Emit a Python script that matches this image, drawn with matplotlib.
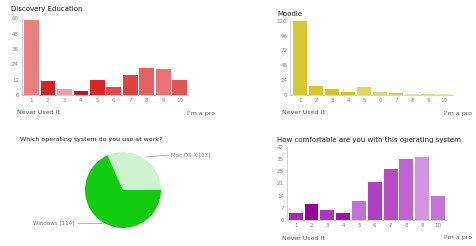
import matplotlib
matplotlib.use("Agg")
import matplotlib.pyplot as plt

# survey data
ratings = [1, 2, 3, 4, 5, 6, 7, 8, 9, 10]

discovery_counts = [59, 11, 5, 3, 12, 6, 16, 21, 20, 12]
discovery_colors = ["#e88080", "#d42323", "#eaa0a0", "#c81028", "#dc2424",
                    "#e04a4a", "#e04242", "#e26262", "#e67474", "#e05656"]
discovery_ticks = [0, 12, 24, 36, 48, 60]

moodle_counts = [119, 15, 9, 5, 13, 5, 3, 1, 2, 1]
moodle_colors = ["#d8c830", "#d8c830", "#d4c424", "#d2c222", "#e2d464",
                 "#e2d674", "#dccc48", "#eee6a8", "#e2d874", "#eee8b0"]
moodle_ticks = [0, 24, 48, 72, 96, 120]

comfort_counts = [4, 9, 6, 4, 11, 22, 29, 35, 36, 14]
comfort_colors = ["#aa26bb", "#990099", "#aa36bb", "#9912aa", "#c272d2",
                  "#b040c2", "#b84ac8", "#c062d0", "#d294e2", "#c474d4"]
comfort_ticks = [0, 7, 14, 21, 28, 35, 42]

os_labels = ["Mac OS X [53]", "Windows [114]"]
os_counts = [53, 114]
os_colors = ["#cdf2cd", "#12cc12"]

W, H = 477, 246
fig = plt.figure(figsize=(W / 100, H / 100), dpi=100)
fig.patch.set_facecolor("white")


def px_axes(x0, y0, x1, y1):
    # axes box given in pixel coords (top-left origin)
    return fig.add_axes([x0 / W, 1 - y1 / H, (x1 - x0) / W, (y1 - y0) / H])


def bar_panel(box, counts, colors, yticks, xleft, title, title_xy, low_xy, high_xy):
    ax = px_axes(*box)
    ax.bar(ratings, counts, width=0.88, color=colors)
    ax.set_xlim(xleft, 10.5)
    ax.set_ylim(0, yticks[-1])
    ax.set_yticks(yticks)
    ax.set_xticks(ratings)
    ax.tick_params(labelsize=4, colors="#888888", length=0, pad=2)
    for s in ["top", "right"]:
        ax.spines[s].set_visible(False)
    for s in ["left", "bottom"]:
        ax.spines[s].set_color("#cccccc")
        ax.spines[s].set_linewidth(0.6)
    fig.text(title_xy[0] / W, 1 - title_xy[1] / H, title, fontsize=5,
             color="#222222", va="center")
    fig.text(low_xy[0] / W, 1 - low_xy[1] / H, "Never Used It", fontsize=4.5,
             color="#555555", va="center")
    fig.text(high_xy[0] / W, 1 - high_xy[1] / H, "I'm a pro", fontsize=4.5,
             color="#555555", va="center")
    return ax


bar_panel((21.7, 18.3, 188, 95), discovery_counts, discovery_colors,
          discovery_ticks, 0.42, "Discovery Education", (11, 9),
          (17, 113), (187, 113))
bar_panel((290, 20.7, 452, 95), moodle_counts, moodle_colors,
          moodle_ticks, 0.35, "Moodle", (277, 14),
          (282, 113), (444, 113))
bar_panel((286.7, 146.7, 446, 220), comfort_counts, comfort_colors,
          comfort_ticks, 0.43, "How comfortable are you with this operating system",
          (277, 140), (282, 238), (444, 238))

# pie chart
cx, cy, r = 123, 190, 38
pax = px_axes(cx - r, cy - r, cx + r, cy + r)
pax.pie(os_counts, colors=os_colors, startangle=0, counterclock=True,
        radius=1.0, wedgeprops=dict(linewidth=0))
pax.set_xlim(-1, 1)
pax.set_ylim(-1, 1)
pax.set_aspect("auto")
fig.text(20 / W, 1 - 140 / H, "Which operating system do you use at work?",
         fontsize=4.5, color="#222222", va="center")
fig.text(171 / W, 1 - 155 / H, os_labels[0], fontsize=4, color="#777777", va="center")
fig.text(33 / W, 1 - 223 / H, os_labels[1], fontsize=4, color="#777777", va="center")
fig.add_artist(plt.Line2D([146 / W, 169 / W], [1 - 157 / H, 1 - 155 / H],
                          color="#999999", lw=0.5))
fig.add_artist(plt.Line2D([78 / W, 101 / W], [1 - 223 / H, 1 - 223 / H],
                          color="#999999", lw=0.5))

fig.savefig("out.png", dpi=100)
